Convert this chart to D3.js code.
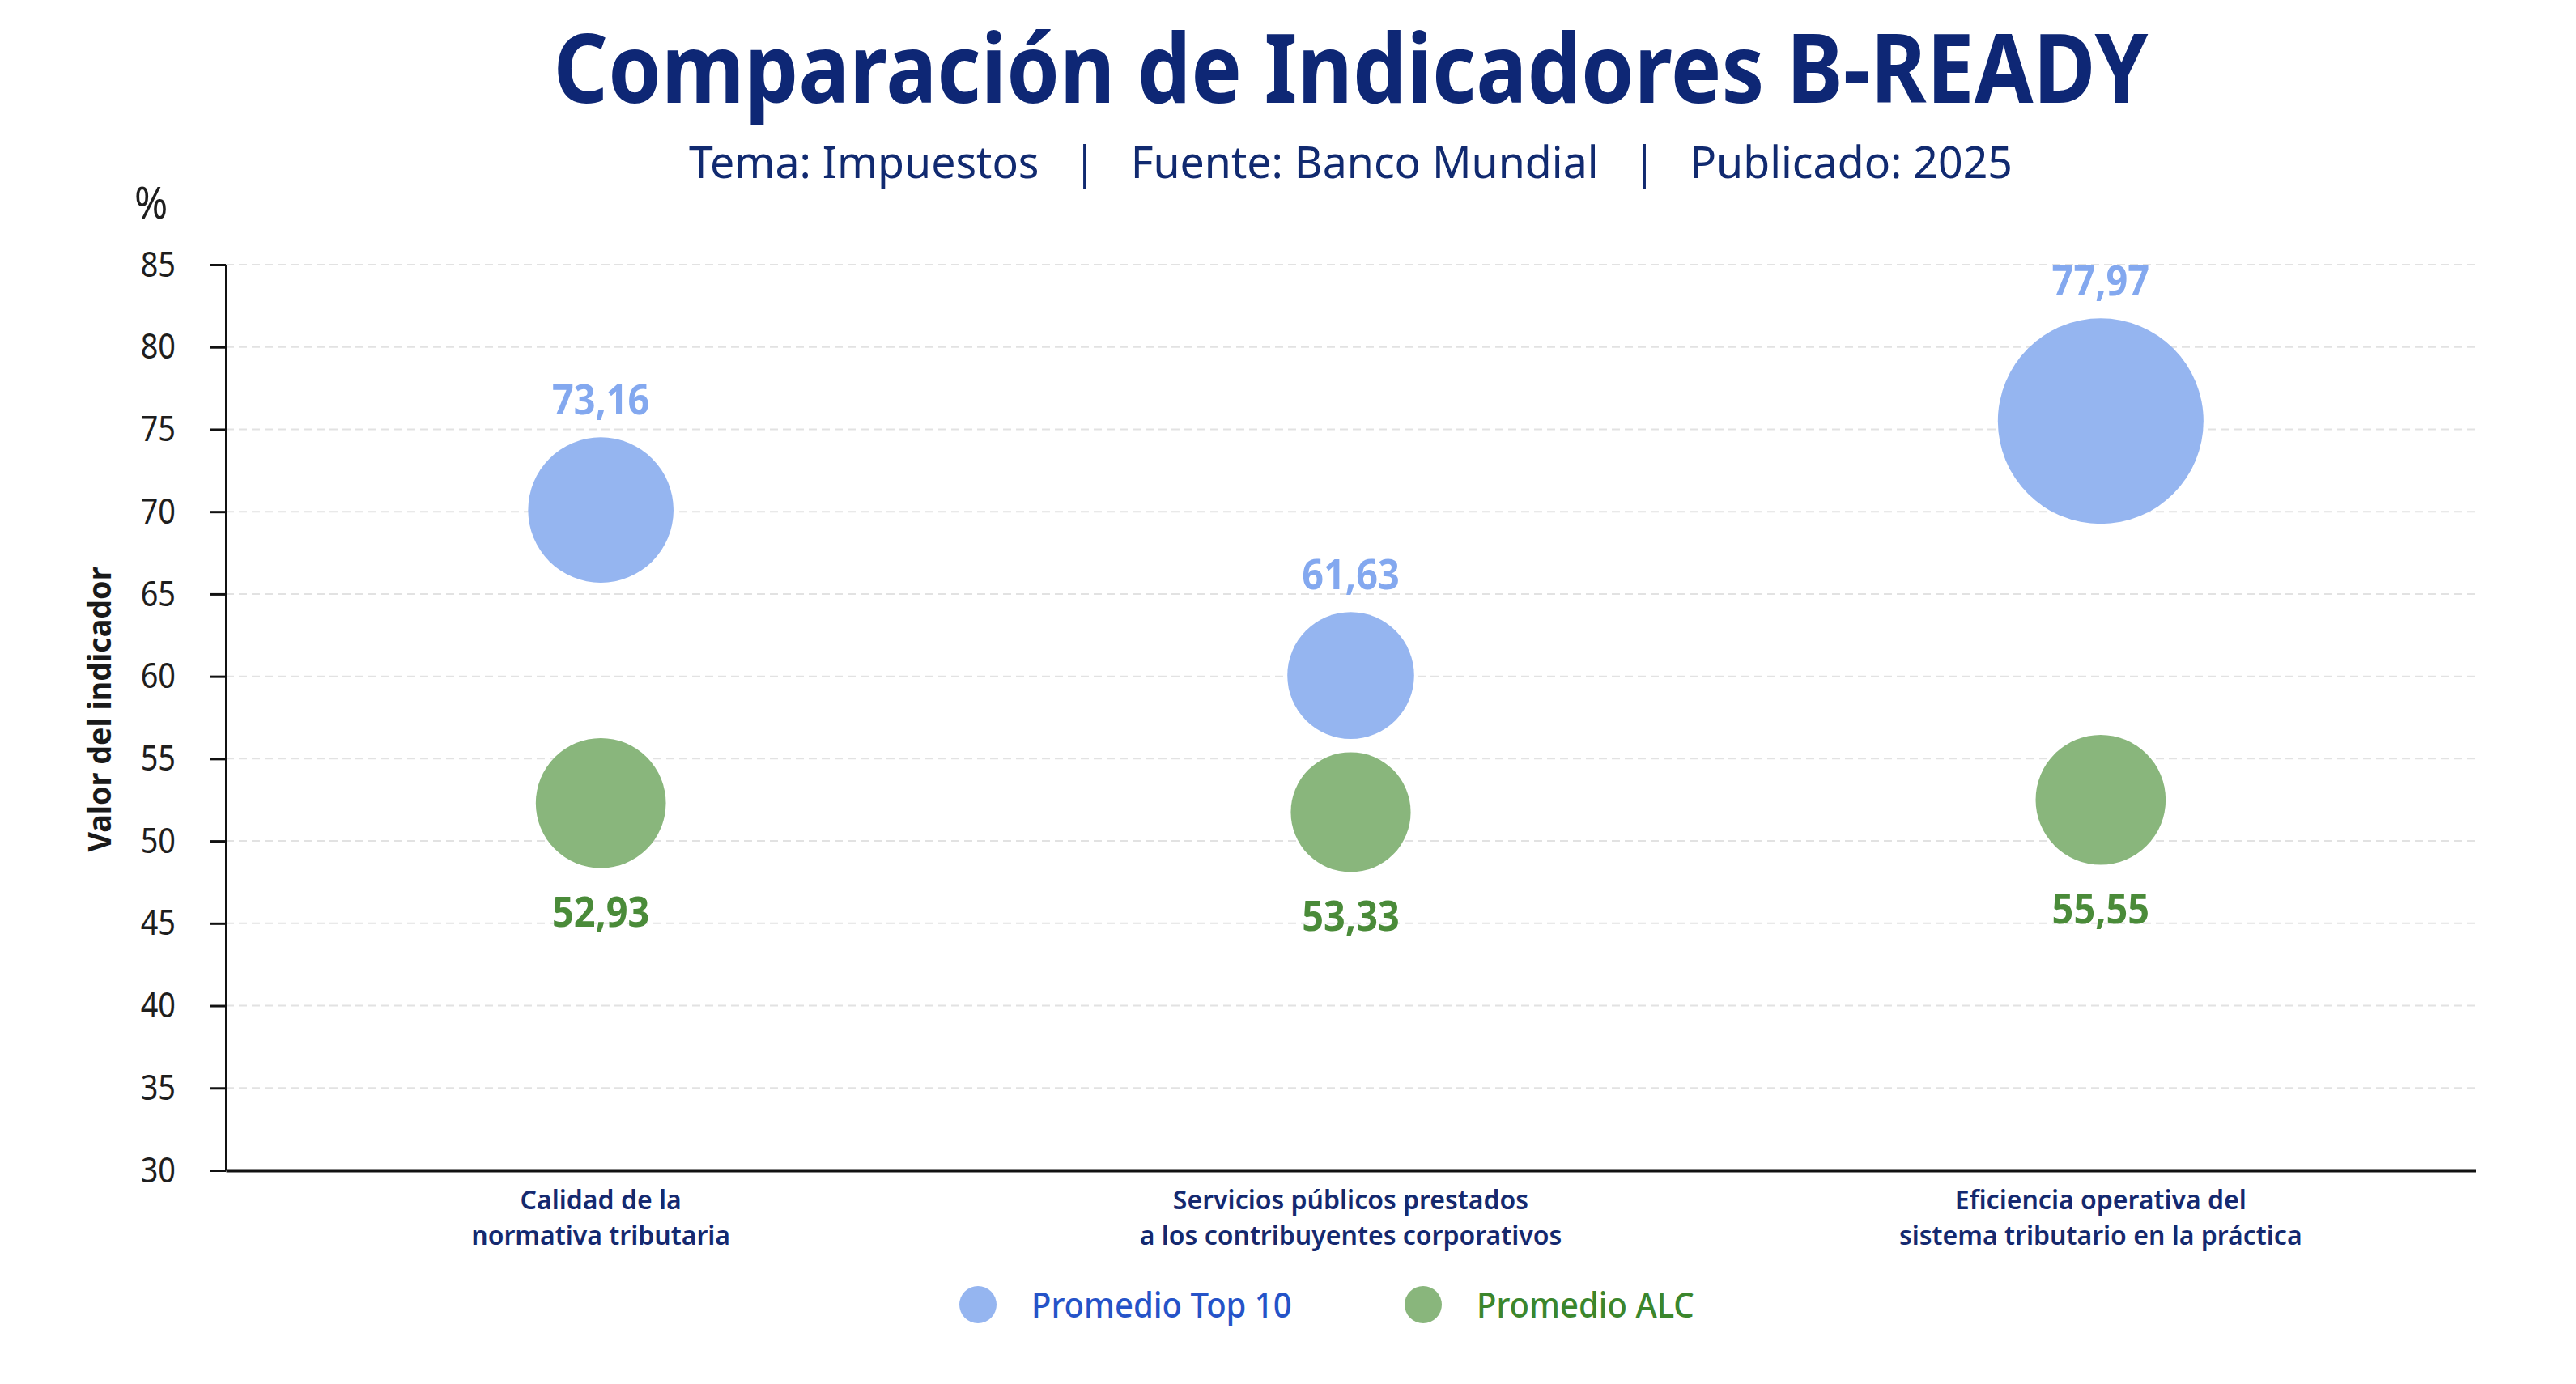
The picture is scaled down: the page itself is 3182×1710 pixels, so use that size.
<!DOCTYPE html>
<html>
<head>
<meta charset="utf-8">
<script src="https://cdn.jsdelivr.net/npm/d3@7"></script>
<style>
  html, body { margin: 0; padding: 0; background: #fff; }
  svg { display: block; font-family: "Noto Sans", "Open Sans", sans-serif; }
</style>
</head>
<body>
<script>
// categorías (en dos líneas, como en el gráfico)
const categories = [
  ['Calidad de la', 'normativa tributaria'],
  ['Servicios públicos prestados', 'a los contribuyentes corporativos'],
  ['Eficiencia operativa del', 'sistema tributario en la práctica']
];
const seriesNames = ['Promedio Top 10', 'Promedio ALC'];

// valores rotulados
const top10Values = [73.16, 61.63, 77.97];
const alcValues = [52.93, 53.33, 55.55];
// altura a la que aparece cada burbuja en el gráfico
const top10Pos = [70.1, 60.05, 75.5];
const alcPos = [52.3, 51.75, 52.5];
// tamaño relativo de cada burbuja (máximo = 100)
const top10Size = [50, 38, 100];
const alcSize = [40, 34, 40];

const yTicks = [30, 35, 40, 45, 50, 55, 60, 65, 70, 75, 80, 85];

const width = 3182;
const height = 1710;
const margin = { top: 327, right: 124, bottom: 264, left: 279 };

const blue = '#95b5f0';
const green = '#89b67c';
const navy = '#0e2775';

const svg = d3.select('body').append('svg')
  .attr('width', width)
  .attr('height', height);

const x = d3.scalePoint()
  .domain(categories.map(c => c.join(' ')))
  .range([margin.left, width - margin.right])
  .padding(0.5);

const y = d3.scaleLinear()
  .domain([30, 85])
  .range([height - margin.bottom, margin.top]);

const r = d3.scaleSqrt().domain([0, 100]).range([0, 127]);

// estrecha el texto para imitar la tipografía condensada
function squeeze(sel, k) {
  sel.each(function () {
    const w = this.getComputedTextLength();
    d3.select(this).attr('textLength', w * k).attr('lengthAdjust', 'spacingAndGlyphs');
  });
}
function fit(sel, w) {
  sel.attr('textLength', w).attr('lengthAdjust', 'spacingAndGlyphs');
}

// título (escalado en horizontal para que ocupe el mismo ancho)
const cx = (margin.left + width - margin.right) / 2;
const title = svg.append('g');
const titleText = title.append('text')
  .attr('text-anchor', 'middle')
  .attr('font-size', 118).attr('font-weight', 700)
  .attr('fill', navy)
  .text('Comparación de Indicadores B-READY');
const tw = titleText.node().getComputedTextLength();
title.attr('transform', `translate(${cx},127) scale(${1970 / tw},1)`);

svg.append('text')
  .attr('x', cx).attr('y', 220)
  .attr('text-anchor', 'middle')
  .attr('font-size', 55)
  .attr('fill', '#112a70')
  .style('white-space', 'pre')
  .text('Tema: Impuestos   |   Fuente: Banco Mundial   |   Publicado: 2025')
  .call(fit, 1635);

// rejilla
svg.append('g')
  .selectAll('line')
  .data(yTicks.filter(t => t > 30))
  .join('line')
  .attr('x1', margin.left).attr('x2', width - margin.right)
  .attr('y1', d => y(d)).attr('y2', d => y(d))
  .attr('stroke', '#e2e2e2')
  .attr('stroke-width', 2)
  .attr('stroke-dasharray', '10,6');

// eje Y
const yAxis = svg.append('g')
  .attr('transform', `translate(${margin.left},0)`)
  .call(d3.axisLeft(y).tickValues(yTicks).tickSize(20).tickSizeOuter(0).tickPadding(42));
yAxis.select('.domain').attr('stroke', '#111').attr('stroke-width', 3);
yAxis.selectAll('.tick line').attr('stroke', '#111').attr('stroke-width', 3);
yAxis.selectAll('.tick text')
  .attr('font-size', 44)
  .attr('font-family', '"Noto Sans", sans-serif')
  .attr('fill', '#1e1e1e')
  .call(squeeze, 0.86);

svg.append('text')
  .attr('x', 166).attr('y', 270)
  .attr('font-size', 54)
  .attr('fill', '#1e1e1e')
  .text('%')
  .call(squeeze, 0.92);

svg.append('text')
  .attr('transform', `translate(137,${(y(30) + y(85)) / 2 - 10}) rotate(-90)`)
  .attr('text-anchor', 'middle')
  .attr('font-size', 40).attr('font-weight', 700)
  .attr('fill', '#1a1a1a')
  .text('Valor del indicador')
  .call(fit, 352);

// eje X
const xAxis = svg.append('g')
  .attr('transform', `translate(0,${y(30)})`)
  .call(d3.axisBottom(x).tickSize(0).tickSizeOuter(0).tickFormat(''));
xAxis.select('.domain').attr('stroke', '#111').attr('stroke-width', 4);

const catLabels = svg.append('g')
  .selectAll('text')
  .data(categories)
  .join('text')
  .attr('text-anchor', 'middle')
  .attr('font-size', 32).attr('font-weight', 600)
  .attr('fill', '#15296f');
catLabels.selectAll('tspan')
  .data(d => d.map(line => ({ line, key: d.join(' ') })))
  .join('tspan')
  .attr('x', d => x(d.key))
  .attr('y', (d, i) => y(30) + 48 + i * 44)
  .text(d => d.line);

// burbujas
const rows = categories.map((c, i) => ({
  key: c.join(' '),
  top: { v: top10Values[i], pos: top10Pos[i], s: top10Size[i] },
  alc: { v: alcValues[i], pos: alcPos[i], s: alcSize[i] }
}));
const fmt = v => d3.format('.2f')(v).replace('.', ',');

const bubbles = svg.append('g');
bubbles.selectAll('circle.top')
  .data(rows)
  .join('circle')
  .attr('class', 'top')
  .attr('cx', d => x(d.key))
  .attr('cy', d => y(d.top.pos))
  .attr('r', d => r(d.top.s))
  .attr('fill', blue);
bubbles.selectAll('circle.alc')
  .data(rows)
  .join('circle')
  .attr('class', 'alc')
  .attr('cx', d => x(d.key))
  .attr('cy', d => y(d.alc.pos))
  .attr('r', d => r(d.alc.s))
  .attr('fill', green);

bubbles.selectAll('text.top')
  .data(rows)
  .join('text')
  .attr('class', 'top')
  .attr('x', d => x(d.key))
  .attr('y', d => y(d.top.pos) - r(d.top.s) - 28)
  .attr('text-anchor', 'middle')
  .attr('font-size', 52).attr('font-weight', 700)
  .attr('fill', '#83a8ef')
  .text(d => fmt(d.top.v))
  .call(squeeze, 0.9);
bubbles.selectAll('text.alc')
  .data(rows)
  .join('text')
  .attr('class', 'alc')
  .attr('x', d => x(d.key))
  .attr('y', d => y(d.alc.pos) + r(d.alc.s) + 72)
  .attr('text-anchor', 'middle')
  .attr('font-size', 52).attr('font-weight', 700)
  .attr('fill', '#4a8b39')
  .text(d => fmt(d.alc.v))
  .call(squeeze, 0.9);

// leyenda
const legendX = [1208, 1758];
const legendFill = [blue, green];
const legendText = ['#2553c8', '#3b862c'];
const legend = svg.append('g')
  .selectAll('g')
  .data(seriesNames)
  .join('g')
  .attr('transform', (d, i) => `translate(${legendX[i]},1612)`);
legend.append('circle')
  .attr('r', 23)
  .attr('fill', (d, i) => legendFill[i]);
legend.append('text')
  .attr('x', 66).attr('y', 16)
  .attr('font-size', 44).attr('font-weight', 500)
  .attr('fill', (d, i) => legendText[i])
  .text(d => d)
  .call(squeeze, 0.91);
</script>
</body>
</html>
